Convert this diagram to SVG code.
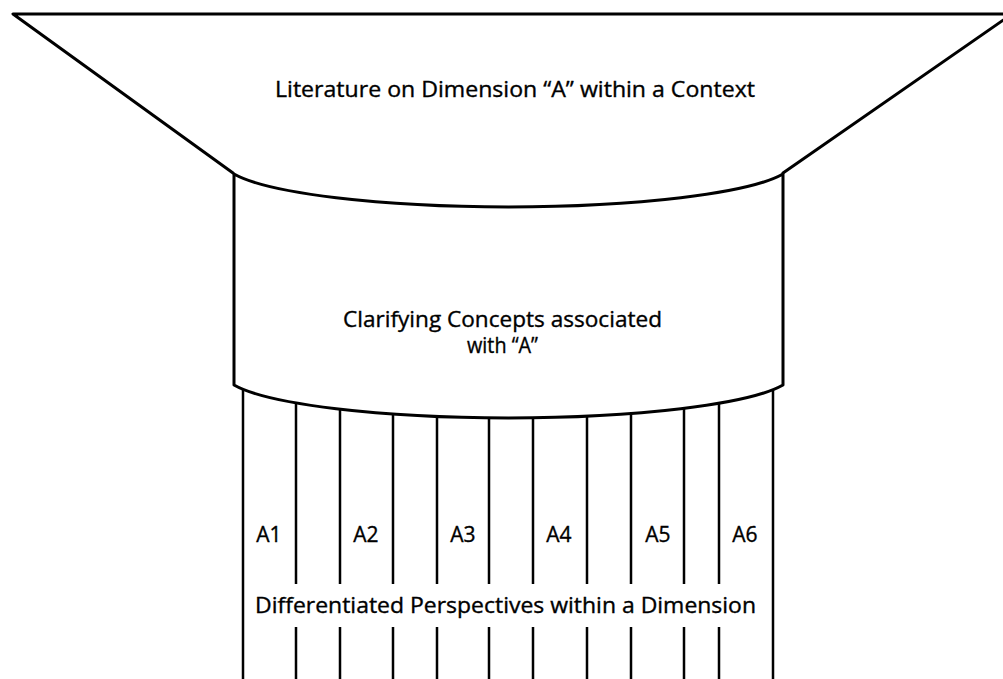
<svg xmlns="http://www.w3.org/2000/svg" width="1003" height="679" viewBox="0 0 1003 679">
  <style>
    .outline { fill: none; stroke: #000; stroke-width: 3; stroke-linejoin: round; stroke-linecap: round; }
    .body { fill: #fff; stroke: #000; stroke-width: 3; stroke-linejoin: round; }
    .strip { stroke: #000; stroke-width: 2.5; fill: none; }
    .label { font-family: "Open Sans", "Noto Sans", "Liberation Sans", sans-serif; font-size: 21px; fill: #000; stroke: #000; stroke-width: 0.35; text-anchor: middle; }
  </style>
  <rect x="0" y="0" width="1003" height="679" fill="#fff"/>

  <!-- vertical dividers of the perspective columns -->
  <g id="connectors">
    <path class="strip" d="M243,380 V679 M773,380 V679"/>
    <path class="strip" d="M296,380 V584 M296,627 V679
                           M340,380 V584 M340,627 V679
                           M393,380 V584 M393,627 V679
                           M437,380 V584 M437,627 V679
                           M489,380 V584 M489,627 V679
                           M533,380 V584 M533,627 V679
                           M587,380 V584 M587,627 V679
                           M631,380 V584 M631,627 V679
                           M684,380 V584 M684,627 V679
                           M719,380 V584 M719,627 V679"/>
  </g>

  <!-- wide funnel mouth -->
  <g id="literature">
    <path class="outline" d="M233,173 L13,14 L1012,14 L783,173"/>
    <text class="label" x="515" y="97" textLength="480" lengthAdjust="spacingAndGlyphs">Literature on Dimension “A” within a Context</text>
  </g>

  <!-- cylindrical neck -->
  <g id="clarifying">
    <path class="body" d="M234,174 A285,45 0 0 0 783,174 L783,385 A285,45 0 0 1 234,385 Z"/>
    <text class="label" x="502.5" y="327" textLength="319" lengthAdjust="spacingAndGlyphs">Clarifying Concepts associated</text>
    <text class="label" x="502.5" y="353" textLength="71" lengthAdjust="spacingAndGlyphs">with “A”</text>
  </g>

  <g id="a1"><text class="label" x="269" y="542">A1</text></g>
  <g id="a2"><text class="label" x="366" y="542">A2</text></g>
  <g id="a3"><text class="label" x="463" y="542">A3</text></g>
  <g id="a4"><text class="label" x="559" y="542">A4</text></g>
  <g id="a5"><text class="label" x="658" y="542">A5</text></g>
  <g id="a6"><text class="label" x="745" y="542">A6</text></g>

  <g id="perspectives">
    <text class="label" x="505.5" y="613" textLength="501" lengthAdjust="spacingAndGlyphs">Differentiated Perspectives within a Dimension</text>
  </g>
</svg>
